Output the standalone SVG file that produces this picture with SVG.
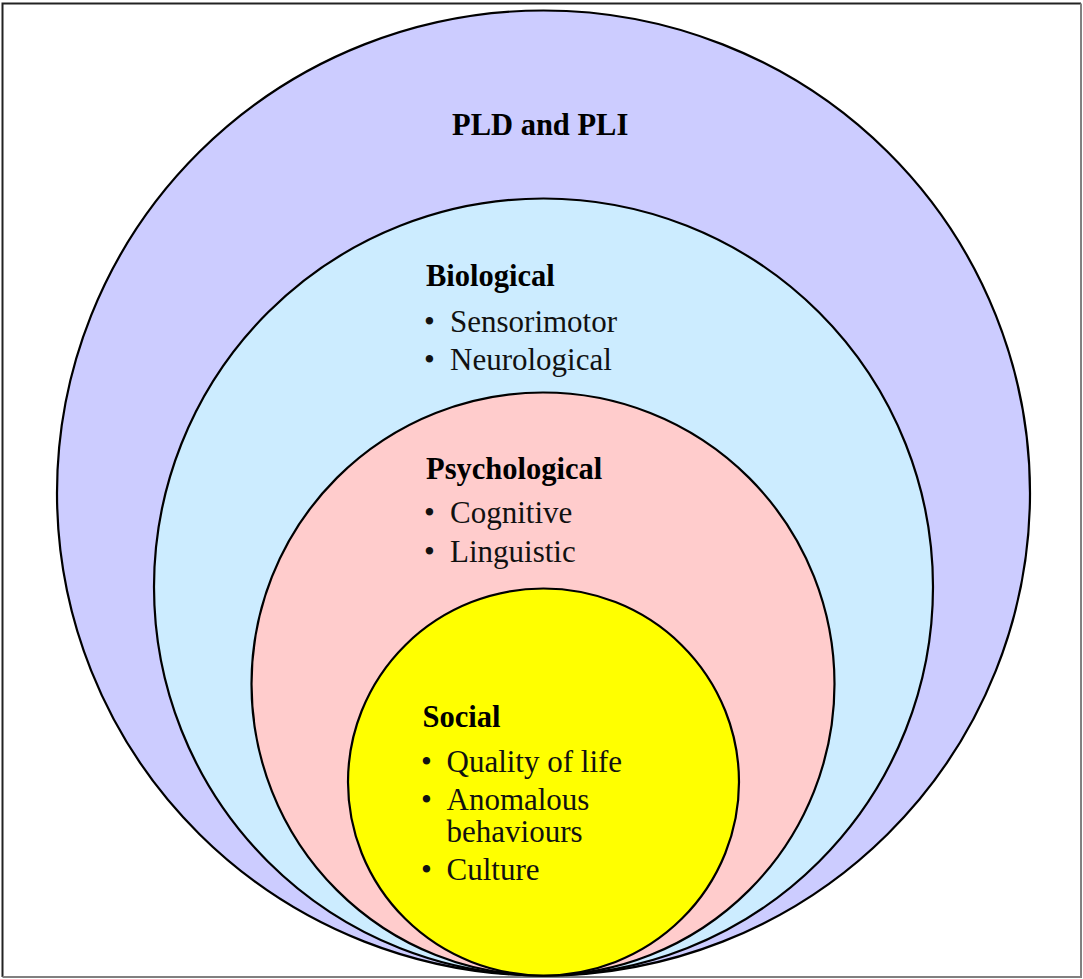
<svg xmlns="http://www.w3.org/2000/svg" width="1083" height="979" viewBox="0 0 1083 979">
  <style>
    .ring { stroke: #000; stroke-width: 2.2; }
    .head { font-family: "Liberation Serif", "Times New Roman", serif; font-weight: bold; font-size: 30.5px; fill: #000; }
    .item { font-family: "Liberation Serif", "Times New Roman", serif; font-size: 31px; fill: #111; }
  </style>
  <rect x="0" y="0" width="1083" height="979" fill="#fff"/>
  <!-- frame: darker top/left, grey right/bottom -->
  <path d="M2.5 977 V3.5 H1081" fill="none" stroke="#222" stroke-width="2"/>
  <path d="M1081 3.5 V977 H2.5" fill="none" stroke="#808080" stroke-width="2"/>

  <g id="pld-pli">
    <ellipse class="ring" cx="543.5" cy="493" rx="486.5" ry="482.5" fill="#CCCCFF"/>
    <text class="head" x="452" y="135" font-size="32">PLD and PLI</text>
  </g>

  <g id="biological">
    <ellipse class="ring" cx="543.5" cy="587" rx="389.5" ry="388.5" fill="#CCECFF"/>
    <text class="head" x="426" y="286">Biological</text>
    <text class="item" x="424" y="332">•</text>
    <text class="item" x="450" y="332">Sensorimotor</text>
    <text class="item" x="424" y="369.5">•</text>
    <text class="item" x="450" y="369.5">Neurological</text>
  </g>

  <g id="psychological">
    <ellipse class="ring" cx="543" cy="684" rx="291.5" ry="291.5" fill="#FFCCCC"/>
    <text class="head" x="426" y="479">Psychological</text>
    <text class="item" x="424" y="523">•</text>
    <text class="item" x="450" y="523">Cognitive</text>
    <text class="item" x="424" y="561.5">•</text>
    <text class="item" x="450" y="561.5">Linguistic</text>
  </g>

  <g id="social">
    <ellipse class="ring" cx="543.5" cy="782" rx="195.5" ry="193.5" fill="#FFFF00"/>
    <text class="head" x="422.5" y="727">Social</text>
    <text class="item" x="421" y="772">•</text>
    <text class="item" x="446.5" y="772">Quality of life</text>
    <text class="item" x="421" y="810">•</text>
    <text class="item" x="446.5" y="810">Anomalous</text>
    <text class="item" x="446.5" y="842">behaviours</text>
    <text class="item" x="421" y="879.5">•</text>
    <text class="item" x="446.5" y="879.5">Culture</text>
  </g>
</svg>
